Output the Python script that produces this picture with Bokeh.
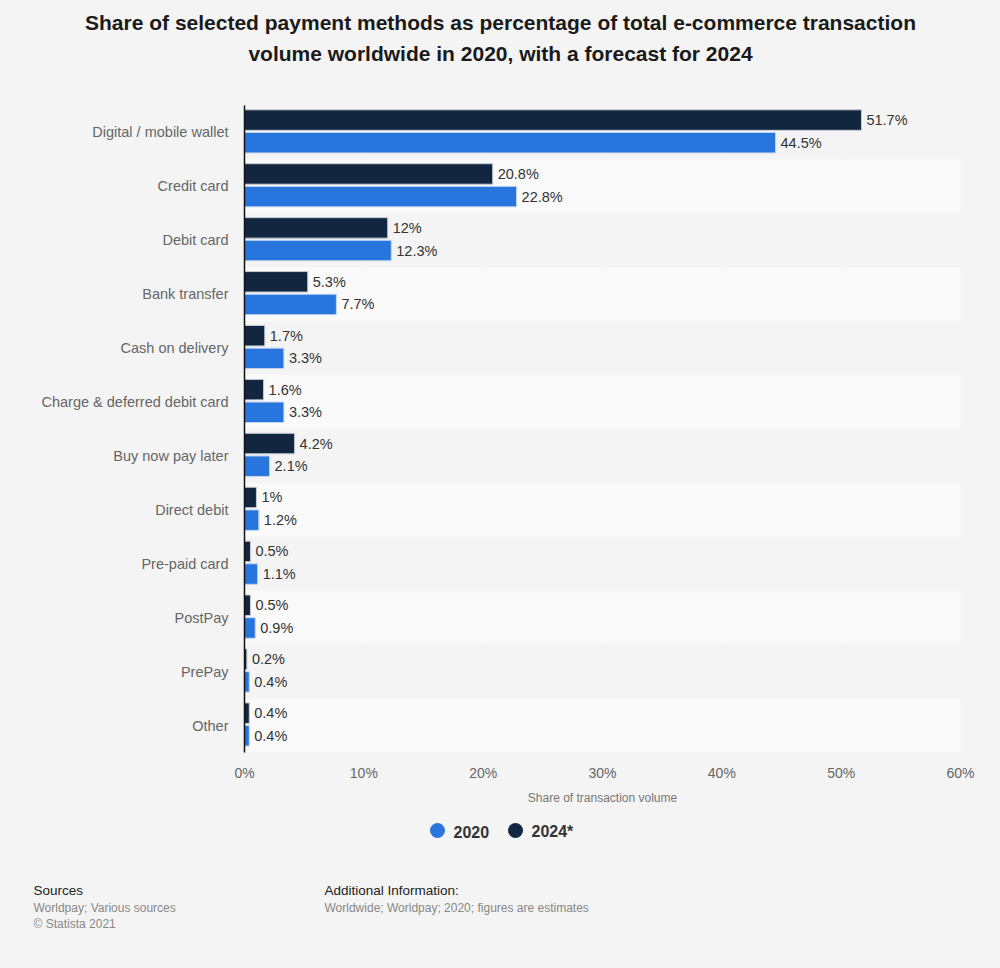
from bokeh.plotting import figure
from bokeh.layouts import column
from bokeh.models import Range1d, FactorRange, FixedTicker, ColumnDataSource
from bokeh.transform import dodge
from bokeh.core.properties import value
from bokeh.embed import file_html
from bokeh.resources import INLINE

# ---------------- data ----------------
categories = ["Digital / mobile wallet", "Credit card", "Debit card", "Bank transfer",
              "Cash on delivery", "Charge & deferred debit card", "Buy now pay later",
              "Direct debit", "Pre-paid card", "PostPay", "PrePay", "Other"]
values_2020 = [44.5, 22.8, 12.3, 7.7, 3.3, 3.3, 2.1, 1.2, 1.1, 0.9, 0.4, 0.4]
values_2024 = [51.7, 20.8, 12.0, 5.3, 1.7, 1.6, 4.2, 1.0, 0.5, 0.5, 0.2, 0.4]
labels_2020 = ["44.5%", "22.8%", "12.3%", "7.7%", "3.3%", "3.3%", "2.1%", "1.2%", "1.1%", "0.9%", "0.4%", "0.4%"]
labels_2024 = ["51.7%", "20.8%", "12%", "5.3%", "1.7%", "1.6%", "4.2%", "1%", "0.5%", "0.5%", "0.2%", "0.4%"]
series_names = ["2020", "2024*"]
x_ticks = [0, 10, 20, 30, 40, 50, 60]
x_tick_labels = ["0%", "10%", "20%", "30%", "40%", "50%", "60%"]

title_lines = ["Share of selected payment methods as percentage of total e-commerce transaction",
               "volume worldwide in 2020, with a forecast for 2024"]
x_axis_label = "Share of transaction volume"
source_head = "Sources"
source_lines = ["Worldpay; Various sources", "© Statista 2021"]
info_head = "Additional Information:"
info_lines = ["Worldwide; Worldpay; 2020; figures are estimates"]

BG = "#f4f4f4"
C2020 = "#2876dd"
C2024 = "#12263f"
FONT = "Liberation Sans"
W = 1000
H_TITLE, H_MAIN, H_FOOT = 90, 720, 158


def blank_fig(h):
    f = figure(width=W, height=h, x_range=Range1d(0, W), y_range=Range1d(h, 0),
               output_backend="svg", toolbar_location=None, min_border=0,
               background_fill_color=BG, border_fill_color=BG, outline_line_color=None,
               frame_align=False)
    f.axis.visible = False
    f.grid.visible = False
    return f


# ---------------- title ----------------
ft = blank_fig(H_TITLE)
ft.text(x=[500, 500], y=[22, 53], text=title_lines, text_align="center", text_baseline="middle",
        text_font=value(FONT), text_font_style="bold", text_font_size="21px", text_color="#1a1a1a")

# ---------------- main chart ----------------
factors = list(reversed(categories))
src = ColumnDataSource(dict(cat=categories, v20=values_2020, v24=values_2024,
                            l20=labels_2020, l24=labels_2024,
                            band=[BG if i % 2 == 0 else "#fafafa" for i in range(len(categories))],
                            bandx=[x_ticks[-1]] * len(categories)))

p = figure(width=W, height=H_MAIN, x_range=Range1d(0, 60), y_range=FactorRange(factors=factors, range_padding=0),
           output_backend="svg", toolbar_location=None,
           min_border_left=244, min_border_right=40, min_border_top=15, min_border_bottom=58,
           background_fill_color=BG, border_fill_color=BG, outline_line_color=None,
           frame_align=False)

p.hbar(y="cat", left=0, right="bandx", height=1.0, source=src, fill_color="band", line_color=None)

OFF24, OFF20 = 0.23, -0.19
p.hbar(y=dodge("cat", OFF24, range=p.y_range), left=0, right="v24", height=0.38, source=src,
       fill_color=C2024, line_color="#c5ccd6", line_width=1)
p.hbar(y=dodge("cat", OFF20, range=p.y_range), left=0, right="v20", height=0.38, source=src,
       fill_color=C2020, line_color="#c5d6ee", line_width=1)

p.text(x="v24", y=dodge("cat", OFF24, range=p.y_range), text="l24", source=src, x_offset=5,
       text_baseline="middle", text_font=value(FONT), text_font_size="14.5px", text_color="#333333")
p.text(x="v20", y=dodge("cat", OFF20, range=p.y_range), text="l20", source=src, x_offset=5,
       text_baseline="middle", text_font=value(FONT), text_font_size="14.5px", text_color="#333333")

p.xgrid.ticker = FixedTicker(ticks=x_ticks)
p.xgrid.grid_line_color = "#cfcfcf"
p.xgrid.grid_line_dash = "2 2"
p.ygrid.visible = False

p.xaxis.ticker = FixedTicker(ticks=x_ticks)
p.xaxis.major_label_overrides = {t: l for t, l in zip(x_ticks, x_tick_labels)}
p.xaxis.axis_line_color = None
p.xaxis.major_tick_line_color = None
p.xaxis.minor_tick_line_color = None
p.xaxis.major_label_text_font = FONT
p.xaxis.major_label_text_font_size = "14px"
p.xaxis.major_label_text_color = "#666666"
p.xaxis.major_label_standoff = 6
p.xaxis.axis_label = x_axis_label
p.xaxis.axis_label_text_font = FONT
p.xaxis.axis_label_text_font_size = "12px"
p.xaxis.axis_label_text_font_style = "normal"
p.xaxis.axis_label_text_color = "#777777"
p.xaxis.axis_label_standoff = 7

p.yaxis.axis_line_color = "#111111"
p.yaxis.axis_line_width = 1.5
p.yaxis.major_tick_line_color = None
p.yaxis.minor_tick_line_color = None
p.yaxis.major_label_text_font = FONT
p.yaxis.major_label_text_font_size = "14.5px"
p.yaxis.major_label_text_color = "#666666"
p.yaxis.major_label_standoff = 10

# ---------------- footer: legend + sources ----------------
ff = blank_fig(H_FOOT)
ff.scatter(x=[437, 515], y=[20, 20], size=15, marker="circle", fill_color=[C2020, C2024], line_color=None)
ff.text(x=[453, 531], y=[21, 21], text=series_names, text_baseline="middle",
        text_font=value(FONT), text_font_style="bold", text_font_size="16px", text_color="#333333")

ff.text(x=[33, 324], y=[80, 80], text=[source_head, info_head], text_baseline="middle",
        text_font=value(FONT), text_font_size="13.5px", text_color="#222222")
ff.text(x=[33, 33, 324], y=[97, 113, 97], text=source_lines + info_lines,
        text_baseline="middle", text_font=value(FONT), text_font_size="12px", text_color="#888888")

layout = column(ft, p, ff, spacing=0, styles={"background-color": BG})
html = file_html(layout, INLINE, title="chart")
html = html.replace("</head>", "<style>html, body { background-color: %s; }</style></head>" % BG, 1)
open("out.html", "w").write(html)
